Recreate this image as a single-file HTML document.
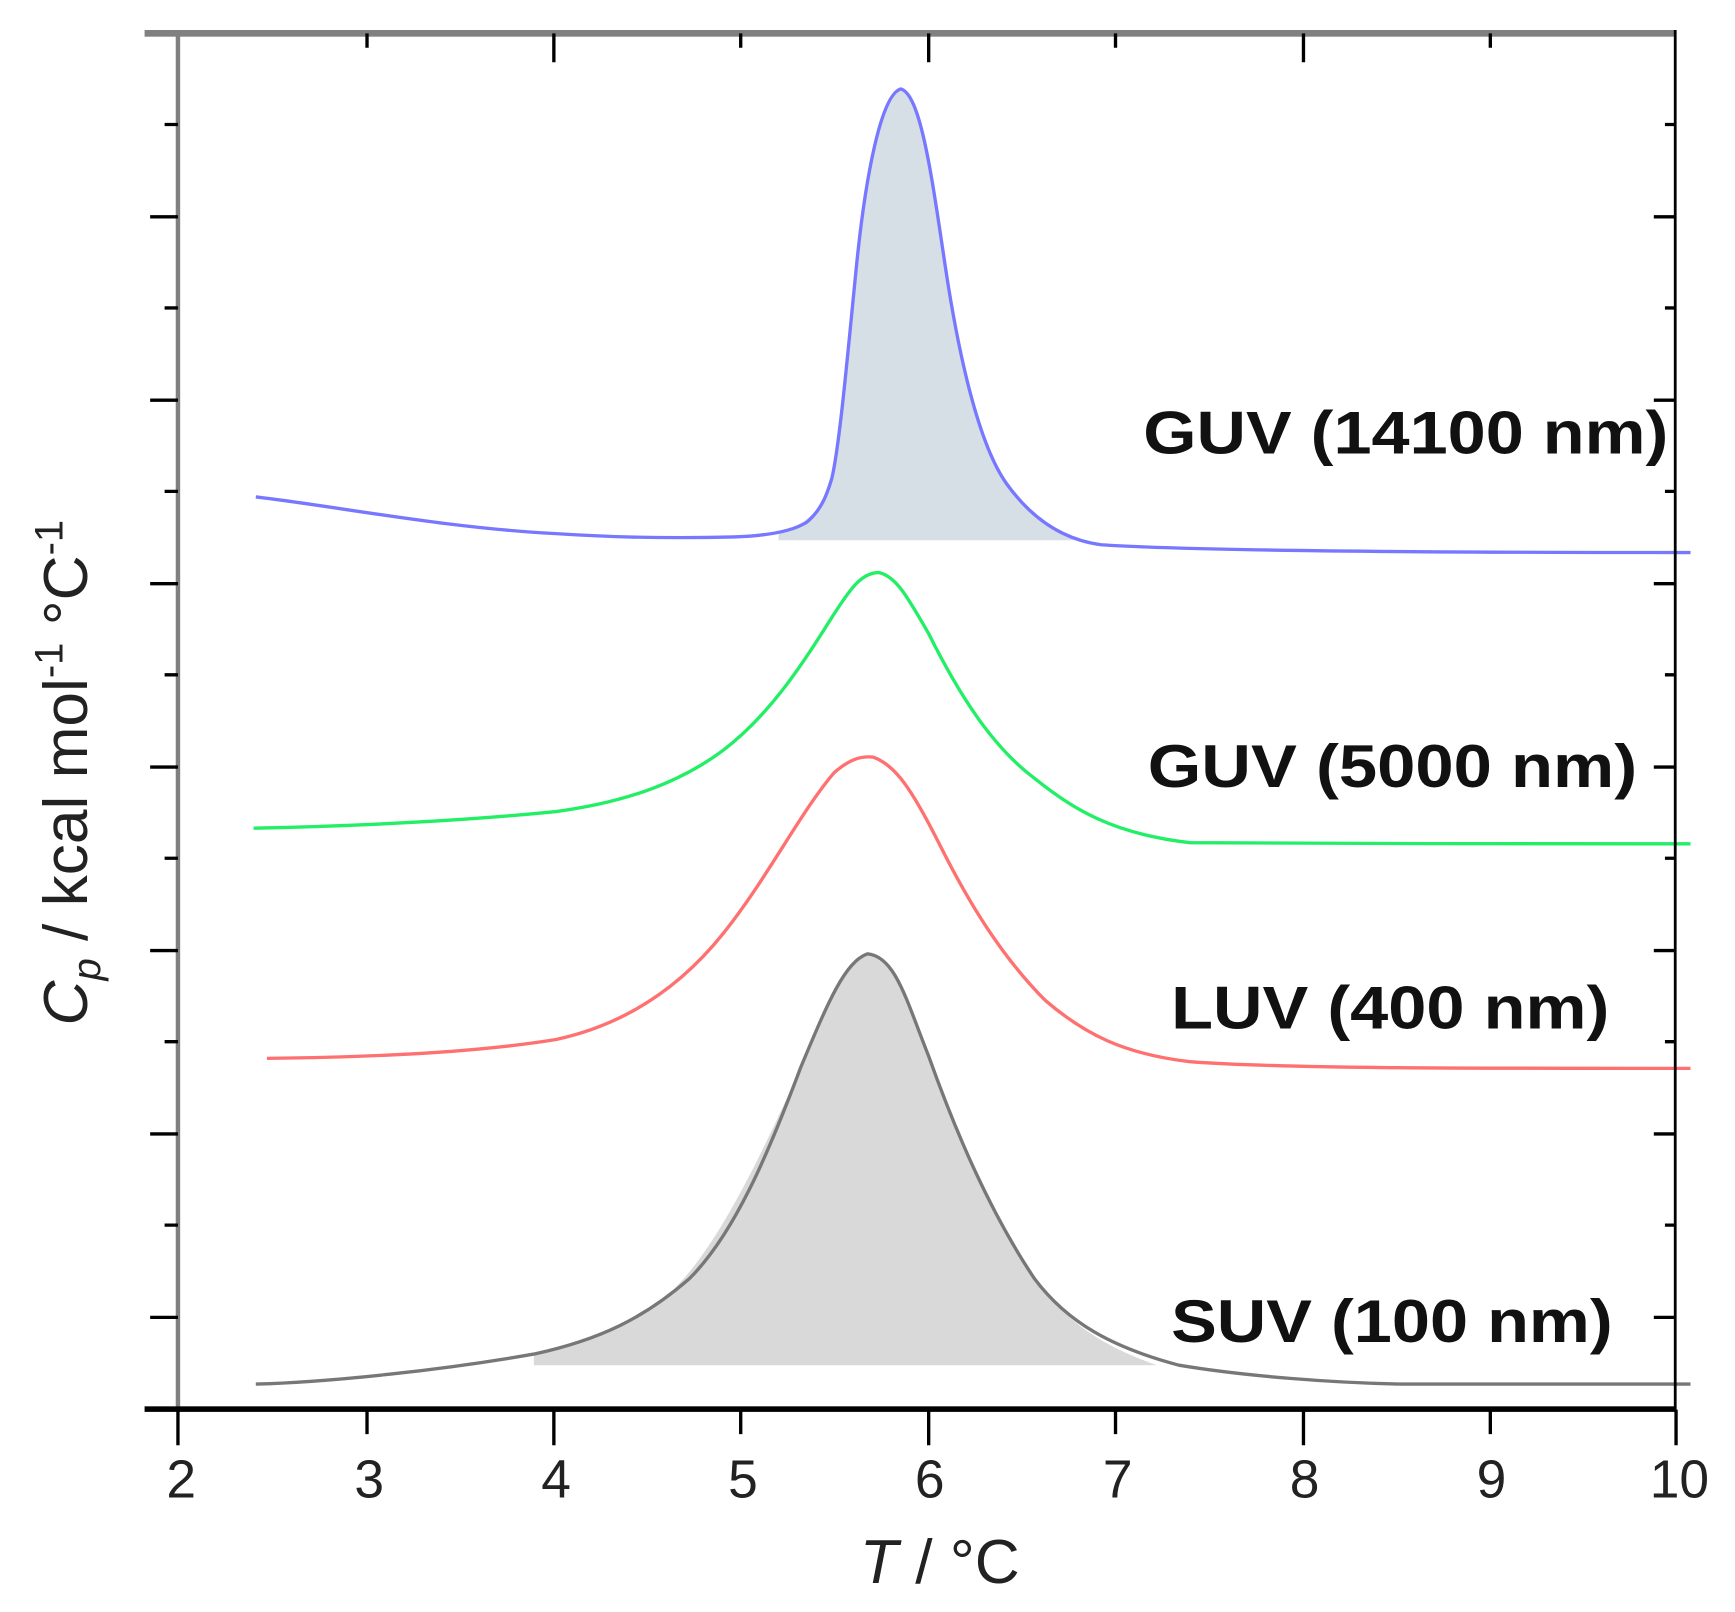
<!DOCTYPE html>
<html><head><style>html,body{margin:0;padding:0;background:#fff}svg{display:block}</style></head>
<body>
<svg width="1735" height="1612" viewBox="0 0 1560 1450" preserveAspectRatio="none" xmlns="http://www.w3.org/2000/svg" font-family="Liberation Sans, sans-serif">
<path d="M700,478 C720,475 738,460 745,440 C752,410 760,330 768,250 C776,170 790,90 810,80 C828,85 838,160 850,240 C862,320 880,400 905,435 C930,470 955,482 975,486 L700,486 Z" fill="#d6dee6"/>
<path d="M480,1218 C520,1210 560,1195 600,1165 C640,1130 680,1050 720,960 C745,900 760,865 780,858 C805,860 815,900 835,950 C860,1020 890,1090 930,1150 C960,1190 990,1210 1040,1228 L480,1228 Z" fill="#d9d9d9"/>
<g fill="none" stroke-width="3">
<path stroke="#7777ff" d="M230,447 C300,455 400,475 500,480 C560,484 620,484 660,483 C690,482 712,478 725,470 C740,458 745,440 748,430 C755,400 762,320 770,240 C778,160 792,85 810,80 C828,85 838,160 850,240 C862,320 880,400 905,435 C930,470 960,486 990,490 C1050,494 1200,497 1520,497"/>
<path stroke="#22ee66" d="M228,745 C320,743 420,738 500,730 C560,722 610,705 650,675 C690,645 720,600 745,560 C765,528 775,515 790,515 C805,518 815,535 835,570 C860,620 890,670 930,700 C965,728 1000,750 1070,758 C1200,759 1400,759 1520,759"/>
<path stroke="#ff7070" d="M240,952 C320,951 420,948 500,935 C560,922 610,890 650,840 C690,790 720,730 750,695 C765,682 775,680 785,681 C805,688 820,710 845,760 C870,810 900,860 940,900 C975,930 1010,948 1070,955 C1150,961 1300,961 1520,961"/>
<path stroke="#777" d="M230,1245 C300,1243 400,1232 480,1218 C540,1205 580,1185 620,1150 C660,1110 690,1040 720,960 C745,900 760,865 780,858 C805,860 815,900 835,950 C860,1020 890,1090 930,1150 C960,1190 1000,1212 1060,1228 C1120,1238 1200,1244 1260,1245 L1520,1245"/>
</g>
<rect x="130" y="27" width="1377" height="6" fill="#808080"/>
<rect x="158" y="27" width="4" height="1243" fill="#808080"/>
<rect x="130" y="1265" width="1377" height="5" fill="#000"/>
<rect x="1505" y="27" width="2.5" height="1243" fill="#000"/>
<g stroke="#000" stroke-width="3">
<path d="M135,195H160M135,360H160M135,525H160M135,690H160M135,855H160M135,1020H160M135,1185H160"/>
<path d="M148,112H160M148,277H160M148,442H160M148,607H160M148,772H160M148,937H160M148,1102H160"/>
<path d="M1487,195H1507M1487,360H1507M1487,525H1507M1487,690H1507M1487,855H1507M1487,1020H1507M1487,1185H1507"/>
<path d="M1497,112H1507M1497,277H1507M1497,442H1507M1497,607H1507M1497,772H1507M1497,937H1507M1497,1102H1507"/>
<path d="M160,1268V1300M330,1268V1290M498,1268V1300M666,1268V1290M835,1268V1300M1003,1268V1290M1172,1268V1300M1340,1268V1290M1507,1268V1300"/>
<path d="M330,30V43M498,30V56M666,30V43M835,30V56M1003,30V43M1172,30V56M1340,30V43"/>
</g>
<g font-size="48" fill="#222" text-anchor="middle">
<text x="163" y="1347">2</text><text x="332" y="1347">3</text><text x="500" y="1347">4</text>
<text x="668" y="1347">5</text><text x="836" y="1347">6</text><text x="1005" y="1347">7</text>
<text x="1173" y="1347">8</text><text x="1341" y="1347">9</text><text x="1510" y="1347">10</text>
</g>
<text x="845" y="1424" font-size="56" fill="#222" text-anchor="middle"><tspan font-style="italic">T</tspan> / °C</text>
<text transform="translate(78,695) rotate(-90)" font-size="56" fill="#222" text-anchor="middle"><tspan font-style="italic">C</tspan><tspan font-style="italic" font-size="36" dy="12">p</tspan><tspan dy="-12"> / kcal mol</tspan><tspan font-size="36" dy="-22">-1</tspan><tspan dy="22"> °C</tspan><tspan font-size="36" dy="-22">-1</tspan></text>
<g font-size="54" font-weight="bold" fill="#111">
<text x="1028" y="408" textLength="472" lengthAdjust="spacingAndGlyphs">GUV (14100 nm)</text>
<text x="1032" y="708" textLength="440" lengthAdjust="spacingAndGlyphs">GUV (5000 nm)</text>
<text x="1053" y="925" textLength="394" lengthAdjust="spacingAndGlyphs">LUV (400 nm)</text>
<text x="1053" y="1207" textLength="397" lengthAdjust="spacingAndGlyphs">SUV (100 nm)</text>
</g>
</svg>
</body></html>
